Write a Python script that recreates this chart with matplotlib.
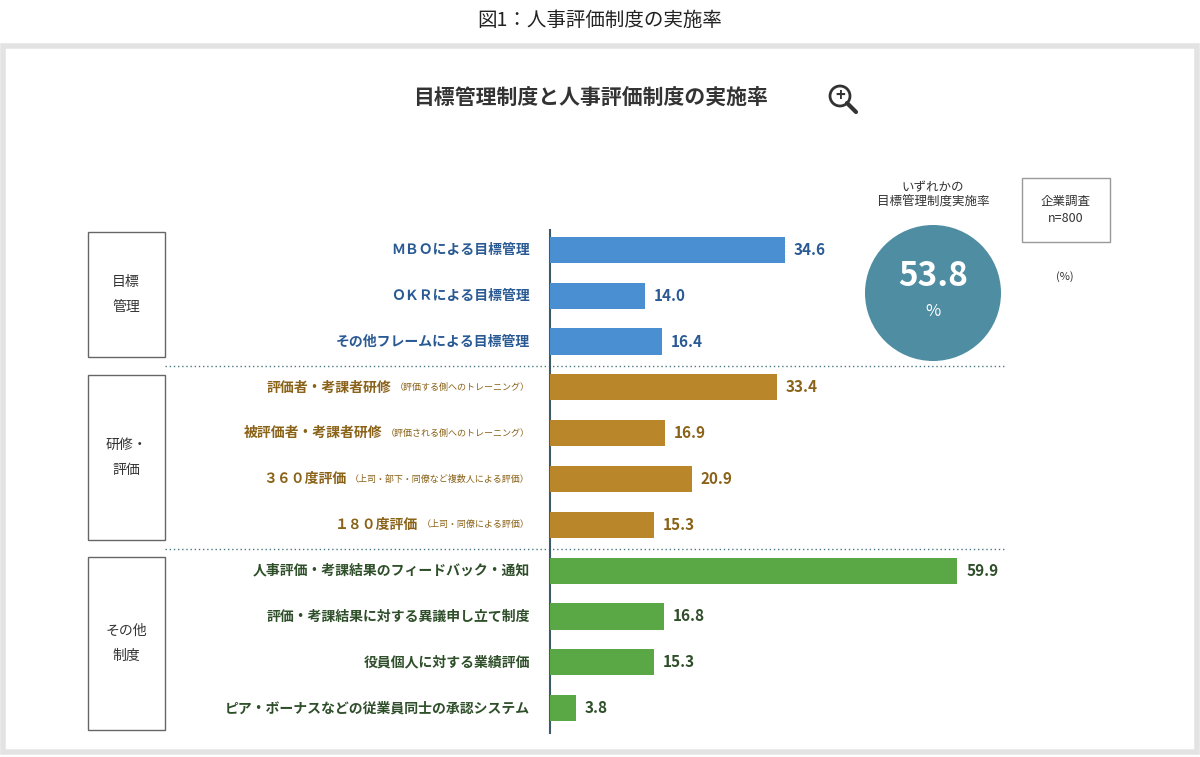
import matplotlib
matplotlib.use("Agg")
import matplotlib.pyplot as plt
from matplotlib.patches import Rectangle, Circle

plt.rcParams["font.family"] = "Noto Sans CJK JP"

labels_main = ["ＭＢＯによる目標管理", "ＯＫＲによる目標管理", "その他フレームによる目標管理",
               "評価者・考課者研修", "被評価者・考課者研修", "３６０度評価", "１８０度評価",
               "人事評価・考課結果のフィードバック・通知", "評価・考課結果に対する異議申し立て制度",
               "役員個人に対する業績評価", "ピア・ボーナスなどの従業員同士の承認システム"]
labels_sub = ["", "", "", "（評価する側へのトレーニング）", "（評価される側へのトレーニング）",
              "（上司・部下・同僚など複数人による評価）", "（上司・同僚による評価）", "", "", "", ""]
values = [34.6, 14.0, 16.4, 33.4, 16.9, 20.9, 15.3, 59.9, 16.8, 15.3, 3.8]
groups = [0, 0, 0, 1, 1, 1, 1, 2, 2, 2, 2]
group_names = ["目標\n管理", "研修・\n評価", "その他\n制度"]
bar_colors = ["#4a8fd2", "#b9862a", "#5aa845"]
text_colors = ["#2a5a94", "#8a6218", "#2f4f2a"]
any_mbo = 53.8

W, H = 1200, 757
fig = plt.figure(figsize=(12, 7.57), dpi=100)
bg = fig.add_axes([0, 0, 1, 1])
bg.set_xlim(0, W); bg.set_ylim(H, 0); bg.axis("off")

bg.text(600, 20, "図1：人事評価制度の実施率", ha="center", va="center", fontsize=14, color="#222222")
bg.add_patch(Rectangle((3, 46), 1194, 706, fill=False, ec="#e3e3e3", lw=4))
bg.text(590, 97, "目標管理制度と人事評価制度の実施率", ha="center", va="center",
        fontsize=15, fontweight="bold", color="#333333")
bg.add_patch(Circle((840, 96), 10, fill=False, ec="#333333", lw=2))
bg.plot([847, 856], [103, 112], color="#333333", lw=3, solid_capstyle="round")
bg.text(840, 96, "+", ha="center", va="center", fontsize=12, fontweight="bold", color="#333333")

# group boxes
for (y0, y1), name in zip([(232, 357), (375, 540), (557, 730)], group_names):
    bg.add_patch(Rectangle((88, y0), 77, y1 - y0, fill=False, ec="#666666", lw=1))
    bg.text(126, (y0 + y1) / 2, name, ha="center", va="center", fontsize=10,
            color="#333333", linespacing=2.0)

for y in [366, 549]:
    bg.plot([165, 1005], [y, y], color="#4a7a80", lw=1, ls=(0, (1, 2)))

# circle
bg.add_patch(Circle((933, 293), 68, color="#4f8da2", ec="none"))
bg.text(933, 277, f"{any_mbo}", ha="center", va="center", fontsize=24, fontweight="bold", color="white")
bg.text(933, 311, "%", ha="center", va="center", fontsize=12, color="white")
bg.text(933, 195, "いずれかの\n目標管理制度実施率", ha="center", va="center", fontsize=9,
        color="#333333", linespacing=1.2)
bg.add_patch(Rectangle((1022, 178), 88, 64, fill=False, ec="#999999", lw=1))
bg.text(1066, 210, "企業調査\nn=800", ha="center", va="center", fontsize=9, color="#333333",
        linespacing=1.5)
bg.text(1065, 277, "(%)", ha="center", va="center", fontsize=8, color="#333333")

# bars
ax = fig.add_axes([550 / W, 1 - 731 / H, 550 / W, 504 / H])
ax.patch.set_alpha(0)
ypos = list(range(len(values)))
ax.barh(ypos, values, height=0.57, color=[bar_colors[g] for g in groups])
ax.set_xlim(0, 550 / 6.8)
ax.set_ylim(len(values) - 0.5, -0.5)
ax.axis("off")
bg.plot([550, 550], [230, 733], color="#3d5a66", lw=1.5)
for y, v, g in zip(ypos, values, groups):
    ax.text(v + 1.3, y, f"{v:.1f}", ha="left", va="center", fontsize=11,
            fontweight="bold", color=text_colors[g])

# category labels (main + small sub-text), right aligned at x=530px
fig.canvas.draw()
r = fig.canvas.get_renderer()
for y, m, s, g in zip(ypos, labels_main, labels_sub, groups):
    yp = 731 - (504 / 11) * (10.5 - y)
    yp = 227 + (504 / 11) * (y + 0.5)
    x = 530
    if s:
        t = bg.text(x, yp, s, ha="right", va="center", fontsize=6.5, color=text_colors[g])
        w = t.get_window_extent(r).width
        x -= w + 4
    bg.text(x, yp, m, ha="right", va="center", fontsize=10, fontweight="bold", color=text_colors[g])

fig.savefig("out.png", dpi=100, facecolor="white")
